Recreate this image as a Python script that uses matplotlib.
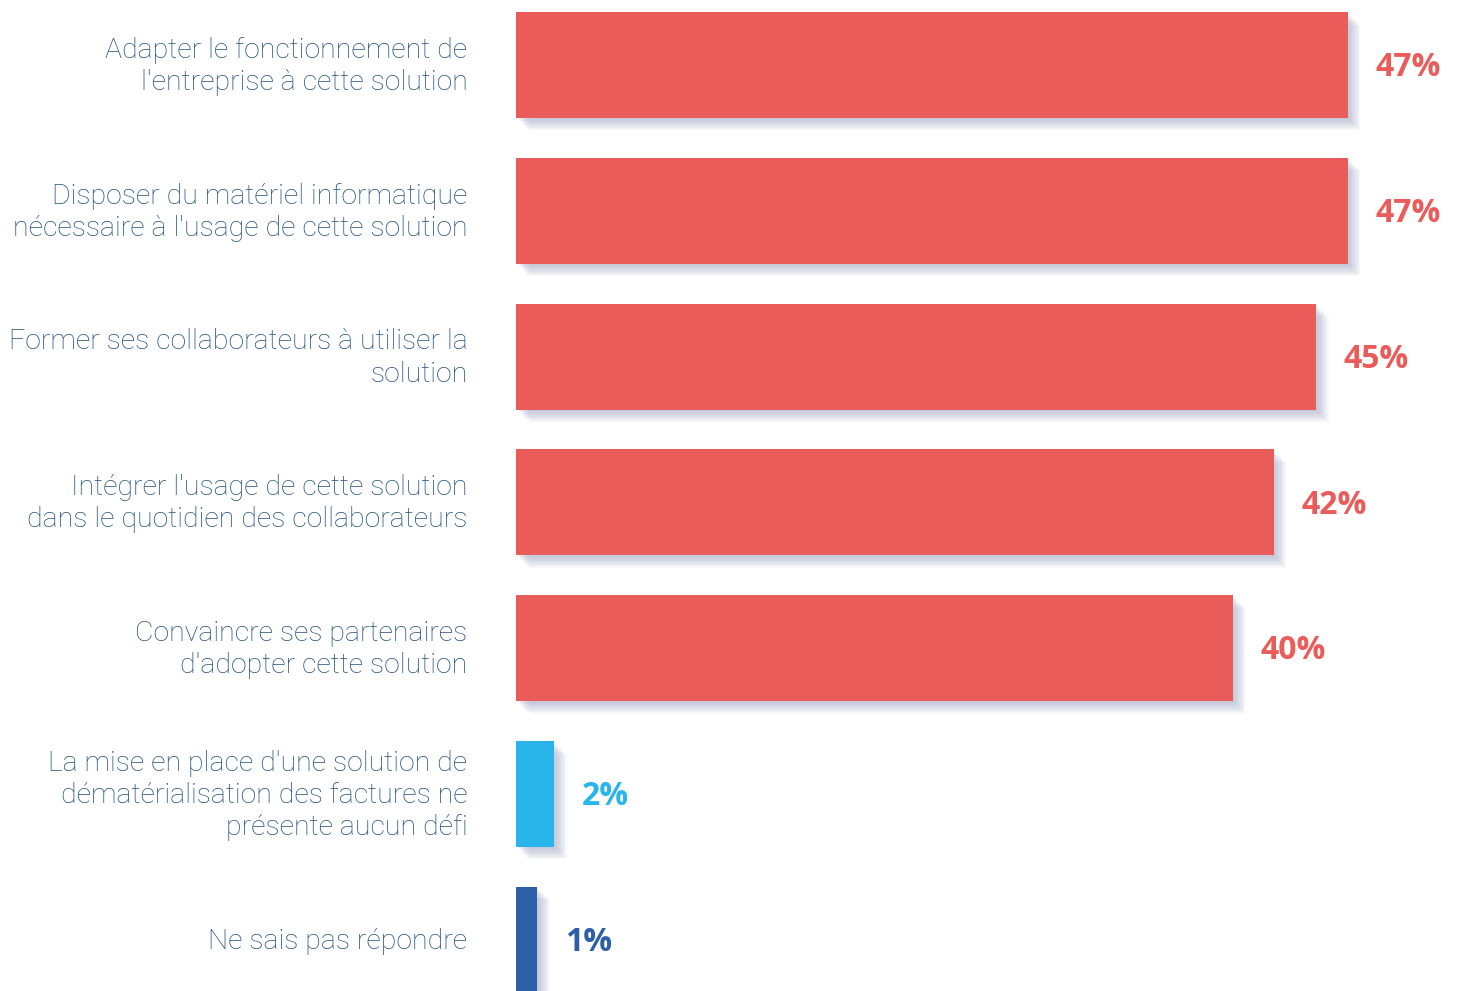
import matplotlib.pyplot as plt
import matplotlib.patheffects as pe

# Défis liés à la dématérialisation des factures
categories = [
    "Adapter le fonctionnement de\nl'entreprise à cette solution",
    "Disposer du matériel informatique\nnécessaire à l'usage de cette solution",
    "Former ses collaborateurs à utiliser la\nsolution",
    "Intégrer l'usage de cette solution\ndans le quotidien des collaborateurs",
    "Convaincre ses partenaires\nd'adopter cette solution",
    "La mise en place d'une solution de\ndématérialisation des factures ne\nprésente aucun défi",
    "Ne sais pas répondre",
]
bar_lengths = [47.0, 47.0, 45.2, 42.8, 40.5, 2.15, 1.2]
pct_labels = ["47%", "47%", "45%", "42%", "40%", "2%", "1%"]
colors = ['#ea5c5a'] * 5 + ['#29b5e9', '#2d5fa9']

W, H = 1465, 991
fig = plt.figure(figsize=(W / 100, H / 100), dpi=100)
ax = fig.add_axes([516 / W, 0, 1 - 516 / W, 1])

shadow = [pe.SimplePatchShadow(offset=(d, -d), shadow_rgbFace='#7f88ad', alpha=0.06)
          for d in (1, 2, 3, 4, 5, 6, 7, 8, 9)] + [pe.Normal()]

y = list(range(len(categories)))
bars = ax.barh(y, bar_lengths, height=0.727, color=colors, zorder=2)
for b in bars:
    b.set_path_effects(shadow)

ax.set_xlim(0, (W - 516) / 17.7)
ax.set_ylim((H - 65) / 145.8, -65 / 145.8)
ax.axis('off')

for i, (lab, val, txt, c) in enumerate(zip(categories, bar_lengths, pct_labels, colors)):
    ax.annotate(lab, xy=(0, i), xytext=(-35, -1), textcoords='offset points',
                ha='right', va='center', fontsize=20.5, color='#22517f',
                family='Roboto', fontweight='light', linespacing=1.25)
    ax.annotate(txt, xy=(val, i), xytext=(20, -2), textcoords='offset points',
                ha='left', va='center', fontsize=23, color=c,
                family='Open Sans', fontweight='bold')

fig.savefig('out.png', dpi=100)
